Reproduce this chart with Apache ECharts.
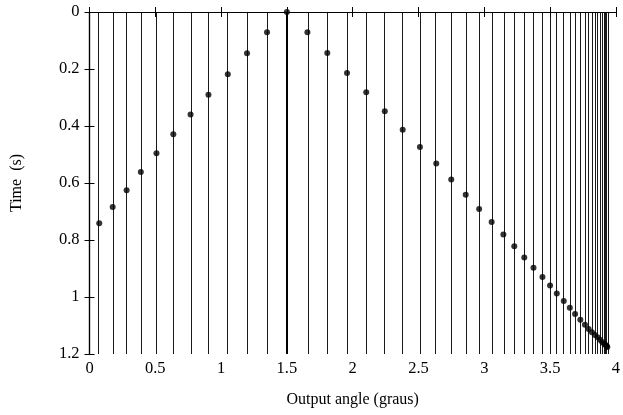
<!DOCTYPE html>
<html>
<head>
<meta charset="utf-8">
<script src="https://cdn.jsdelivr.net/npm/echarts@6/dist/echarts.min.js"></script>
<style>
  html, body { margin: 0; padding: 0; background: #fff; }
  #chart { width: 623px; height: 415px; }
</style>
</head>
<body>
<div id="chart"></div>
<script>
// output angle (graus) and arrival time (s)
const angles = [0.074, 0.176, 0.282, 0.390, 0.509, 0.637, 0.768, 0.904, 1.051, 1.197, 1.349, 1.500,
    1.656, 1.807, 1.957, 2.103, 2.244, 2.380, 2.511, 2.635, 2.749, 2.859, 2.961, 3.056, 3.145,
    3.228, 3.304, 3.374, 3.442, 3.500, 3.551, 3.604, 3.650, 3.690, 3.730, 3.765, 3.793, 3.818,
    3.841, 3.861, 3.879, 3.896, 3.911, 3.922, 3.930, 3.935];
const times = [0.741, 0.684, 0.625, 0.561, 0.496, 0.429, 0.360, 0.290, 0.218, 0.145, 0.071, 0.000,
    0.071, 0.144, 0.214, 0.282, 0.348, 0.413, 0.474, 0.532, 0.588, 0.641, 0.691, 0.737, 0.781,
    0.822, 0.861, 0.897, 0.930, 0.960, 0.988, 1.014, 1.038, 1.060, 1.080, 1.097, 1.112, 1.124,
    1.133, 1.141, 1.150, 1.158, 1.164, 1.168, 1.172, 1.175];
const centerAngle = 1.5;

const chart = echarts.init(document.getElementById('chart'), null, { renderer: 'canvas' });

const font = 'Liberation Serif';
const axisLine = { show: true, lineStyle: { color: '#000', width: 1.2 } };
const axisTick = { show: true, inside: true, length: 5, lineStyle: { color: '#000', width: 1 } };

let option;

option = {
    animation: false,
    backgroundColor: '#fff',
    grid: { left: 89.5, right: 5, top: 12, bottom: 61, containLabel: false },
    xAxis: [
        {
            type: 'value', position: 'bottom', min: 0, max: 4, interval: 0.5,
            name: 'Output angle (graus)', nameLocation: 'middle', nameGap: 38,
            nameTextStyle: { fontFamily: font, fontSize: 16, color: '#000' },
            axisLine, axisTick, splitLine: { show: false },
            axisLabel: { fontFamily: font, fontSize: 16.5, color: '#000', margin: 6 }
        },
        {
            type: 'value', position: 'top', min: 0, max: 4, interval: 0.5,
            axisLine, axisTick, splitLine: { show: false }, axisLabel: { show: false }
        }
    ],
    yAxis: [
        {
            type: 'value', position: 'left', inverse: true, min: 0, max: 1.2, interval: 0.2,
            name: 'Time  (s)', nameLocation: 'middle', nameGap: 65,
            nameTextStyle: { fontFamily: font, fontSize: 16, color: '#000' },
            axisLine, axisTick, splitLine: { show: false },
            axisLabel: { fontFamily: font, fontSize: 16.5, color: '#000', margin: 10 }
        },
        {
            type: 'value', position: 'right', inverse: true, min: 0, max: 1.2, interval: 0.2,
            axisLine, axisTick, splitLine: { show: false }, axisLabel: { show: false }
        }
    ],
    series: [
        {
            type: 'scatter',
            data: angles.map((a, i) => [a, times[i]]),
            symbol: 'circle',
            symbolSize: 6,
            itemStyle: { color: '#000' },
            silent: true,
            z: 5,
            markLine: {
                silent: true,
                symbol: ['none', 'none'],
                label: { show: false },
                animation: false,
                data: angles.map(a => ({
                    xAxis: a,
                    lineStyle: { color: '#000', type: 'solid', width: a === centerAngle ? 2 : 0.9 }
                }))
            }
        }
    ]
};

window.addEventListener('resize', function() {
    chart.resize();
});

option && chart.setOption(option);
</script>
</body>
</html>
